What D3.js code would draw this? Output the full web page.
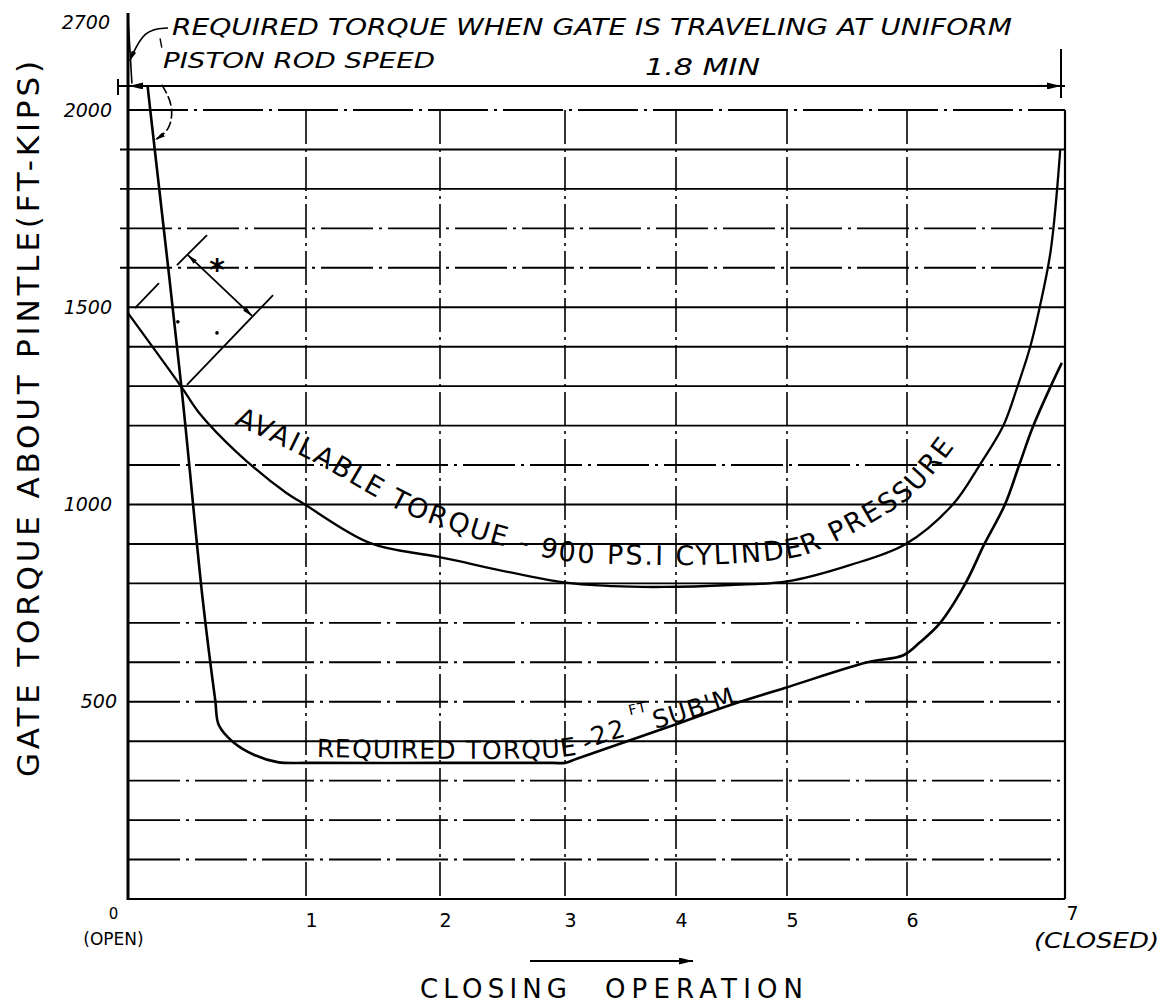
<!DOCTYPE html>
<html><head><meta charset="utf-8">
<script src="https://cdn.jsdelivr.net/npm/d3@7/dist/d3.min.js"></script>
<style>
html,body{margin:0;padding:0;background:#fff;}
svg{display:block;}
text{font-family:"DejaVu Sans",sans-serif;fill:#000;}
</style></head><body>
<svg id="chart" width="1172" height="1007" viewBox="0 0 1172 1007"></svg>
<script>
// ---------------- data ----------------
const xTickValues = [0,1,2,3,4,5,6,7];
const xTickLabels = ["0","1","2","3","4","5","6","7"];
const xTickNotes  = ["(OPEN)","","","","","","","(CLOSED)"];
const yTickValues = [500,1000,1500,2000,2700];
const yTickLabels = ["500","1000","1500","2000","2700"];
const gridValues  = [100,200,300,400,500,600,700,800,900,1000,1100,1200,1300,1400,1500,1600,1700,1800,1900];
const gridDashed  = [100,200,300,500,600,700,1100,1600,1700];
const vGridValues = [1,2,3,4,5,6];

// available torque - 900 psi cylinder pressure
const availX = [0,0.30,0.40,0.61,0.89,0.98,1.48,1.99,2.96,3.43,3.89,4.49,5.0,5.53,5.99,6.29,6.46,6.61,6.70,6.78,6.84,6.91,6.97];
const availY = [1485,1298,1232,1133,1029,1004,902,867,804,793,791,796,805,847,900,1000,1100,1200,1300,1400,1500,1645,1900];

// required torque - 22 ft submergence
const reqX = [0.11,0.125,0.30,0.42,0.49,0.51,0.59,0.71,0.84,1.03,2.0,2.9,3.0,3.1,4.0,4.49,4.98,5.67,5.97,6.08,6.21,6.37,6.49,6.62,6.71,6.80,6.91,6.98];
const reqY = [2181,2000,1298,758,504,441,398,365,347,345,345,345,345,355,443,492,535,600,618,650,700,800,900,1000,1100,1200,1300,1359];

// required torque at uniform piston rod speed (initial spike, broken scale)
const spikeX = [0,0.022];
const spikeY = [2700,2200];

// label baselines (data space)
const availLabelX = [0.596,1.045,1.49,1.74,2.20,2.50,2.96,3.77,4.40,5.08,5.26,5.72,6.05,6.30];
const availLabelY = [1204,1110,1024,978,923,895,859,847,849,867,885,956,1027,1146];
const reqLabelX = [1.08,2.96,3.21,3.32,3.59,3.92,4.58];
const reqLabelY = [360,360,375,393,416,439,499];

// texts
const yTitle = "GATE TORQUE ABOUT PINTLE(FT-KIPS)";
const xTitleA = "CLOSING", xTitleB = "OPERATION";
const noteLine1 = "REQUIRED TORQUE WHEN GATE IS TRAVELING AT UNIFORM";
const noteLine2 = "PISTON ROD SPEED";
const durationText = "1.8 MIN";
const availLabel = "AVAILABLE TORQUE - 900 PS.I CYLINDER PRESSURE";
const reqLabelMain = "REQUIRED TORQUE -22", reqLabelSup = "FT", reqLabelEnd = "SUB'M";
const dimValue = 2181; // level of the 1.8 MIN dimension line

// ---------------- scales ----------------
const svg = d3.select("#chart");
const x = d3.scaleLinear().domain(xTickValues).range([128,306,440,565,676,787,907,1065]);
const y = d3.scaleLinear().domain([0,2000,2700]).range([899,110,17]);

const defs = svg.append("defs");
defs.append("marker").attr("id","arr").attr("viewBox","0 0 12 6")
  .attr("refX",12).attr("refY",3).attr("markerWidth",16).attr("markerHeight",7)
  .attr("markerUnits","userSpaceOnUse").attr("orient","auto-start-reverse")
  .append("path").attr("d","M0,0 L12,3 L0,6 Z").attr("fill","#000");
defs.append("marker").attr("id","arrS").attr("viewBox","0 0 12 6")
  .attr("refX",12).attr("refY",3).attr("markerWidth",11).attr("markerHeight",5)
  .attr("markerUnits","userSpaceOnUse").attr("orient","auto-start-reverse")
  .append("path").attr("d","M0,0 L12,3 L0,6 Z").attr("fill","#000");

// ---------------- grid ----------------
const grid = svg.append("g");
grid.selectAll("line.h").data(gridValues).join("line")
  .attr("x1",d=>x(0)-(d>1500?8:0)).attr("x2",x(7))
  .attr("y1",d=>y(d)).attr("y2",d=>y(d))
  .attr("stroke","#000").attr("stroke-width",1.9)
  .attr("stroke-dasharray",d=>gridDashed.includes(d)?"52,6,3,6":null);
grid.selectAll("line.v").data(vGridValues).join("line")
  .attr("x1",d=>x(d)).attr("x2",d=>x(d))
  .attr("y1",y(2000)).attr("y2",y(0))
  .attr("stroke","#000").attr("stroke-width",1.6)
  .attr("stroke-dasharray","34,5,3,5");
grid.append("line").attr("x1",x(0)).attr("x2",x(7)).attr("y1",y(2000)).attr("y2",y(2000))
  .attr("stroke","#000").attr("stroke-width",1.8).attr("stroke-dasharray","60,6,3,6");
grid.append("line").attr("x1",x(0)).attr("x2",x(7)).attr("y1",y(0)).attr("y2",y(0))
  .attr("stroke","#000").attr("stroke-width",2.2);
grid.append("line").attr("x1",x(7)).attr("x2",x(7)).attr("y1",y(2000)).attr("y2",y(0))
  .attr("stroke","#000").attr("stroke-width",2.2);
grid.append("line").attr("x1",x(0)).attr("x2",x(0)).attr("y1",y(2700)-4).attr("y2",y(0)+1)
  .attr("stroke","#000").attr("stroke-width",3);

// ---------------- axes ----------------
const gx = svg.append("g").attr("transform",`translate(0,${y(0)})`)
  .call(d3.axisBottom(x).tickValues(xTickValues).tickSize(0).tickPadding(15)
        .tickFormat((d,i)=>xTickLabels[i]));
gx.select(".domain").remove();
gx.selectAll(".tick text")
  .attr("font-family","DejaVu Sans").attr("font-size",(d,i)=>(i===0?15:19))
  .attr("dx",(d,i)=>(i===0?-15:i===7?7:5)).attr("dy",(d,i)=>(i===0||i===7?"0.3em":"0.71em"));
gx.selectAll(".tick").filter(d=>xTickNotes[xTickValues.indexOf(d)]!=="").append("text")
  .attr("fill","#000").attr("font-family","DejaVu Sans")
  .attr("font-size",d=>d===7?22:17).attr("text-anchor","middle")
  .attr("font-style",d=>d===7?"italic":"normal")
  .attr("textLength",d=>d===7?125:null).attr("lengthAdjust","spacingAndGlyphs")
  .attr("x",d=>d===0?-15:31).attr("y",d=>d===7?49:46)
  .text(d=>xTickNotes[xTickValues.indexOf(d)]);

const gy = svg.append("g").attr("transform",`translate(${x(0)},0)`)
  .call(d3.axisLeft(y).tickValues(yTickValues).tickSize(0).tickPadding(16)
        .tickFormat((d,i)=>yTickLabels[i]));
gy.select(".domain").remove();
gy.selectAll(".tick text").attr("font-family","DejaVu Sans").attr("font-style","italic")
  .attr("font-size",19).attr("dx",d=>d===500?5:d===2700?-2:0).attr("dy",d=>d===2700?"0.6em":"0.32em");

// ---------------- curves ----------------
const line = d3.line().x(d=>x(d[0])).y(d=>y(d[1])).curve(d3.curveCatmullRom.alpha(0.5));
const availData = availX.map((v,i)=>[v,availY[i]]);
const reqData = reqX.map((v,i)=>[v,reqY[i]]);
const spikeData = spikeX.map((v,i)=>[v,spikeY[i]]);
svg.append("path").attr("d",line(availData)).attr("fill","none").attr("stroke","#000").attr("stroke-width",2.3);
svg.append("path").attr("d",line(reqData)).attr("fill","none").attr("stroke","#000").attr("stroke-width",2.6);
svg.append("path").attr("d",d3.line().x(d=>x(d[0])).y(d=>y(d[1]))(spikeData))
  .attr("fill","none").attr("stroke","#000").attr("stroke-width",1.6);

// ---------------- curve labels ----------------
const labelLine = d3.line().x(d=>x(d[0])).y(d=>y(d[1])).curve(d3.curveCatmullRom.alpha(0.5));
const alp = defs.append("path").attr("id","availLabelPath")
  .attr("d",labelLine(availLabelX.map((v,i)=>[v,availLabelY[i]])));
const aText = svg.append("text").attr("font-size",27).attr("font-family","DejaVu Sans");
aText.append("textPath").attr("href","#availLabelPath").text(availLabel);
{
  const L = alp.node().getTotalLength();
  const t = aText.node().getComputedTextLength();
  aText.attr("letter-spacing",((L - t)/(availLabel.length-1)).toFixed(2));
}
defs.append("path").attr("id","reqLabelPath")
  .attr("d",labelLine(reqLabelX.map((v,i)=>[v,reqLabelY[i]])));
const rText = svg.append("text").attr("font-size",25).attr("font-family","DejaVu Sans").attr("letter-spacing",1.1);
const rTP = rText.append("textPath").attr("href","#reqLabelPath");
rTP.append("tspan").text(reqLabelMain);
rTP.append("tspan").attr("font-size",14).attr("dy",-19).attr("dx",7).text(reqLabelSup);
rTP.append("tspan").attr("dy",19).attr("dx",3).text(reqLabelEnd);

// ---------------- annotations ----------------
const P = (a,b)=>[x(a),y(b)];
svg.append("line").attr("x1",x(0)-10).attr("x2",x(7)).attr("y1",y(dimValue)).attr("y2",y(dimValue))
  .attr("stroke","#000").attr("stroke-width",2);
svg.append("line").attr("x1",x(0)+14).attr("x2",x(0)+1).attr("y1",y(dimValue)).attr("y2",y(dimValue))
  .attr("stroke","#000").attr("stroke-width",2).attr("marker-end","url(#arr)");
svg.append("line").attr("x1",x(7)-30).attr("x2",x(7)-4).attr("y1",y(dimValue)).attr("y2",y(dimValue))
  .attr("stroke","#000").attr("stroke-width",2).attr("marker-end","url(#arr)");
svg.append("line").attr("x1",x(0)-10).attr("x2",x(0)-10).attr("y1",y(dimValue)-7).attr("y2",y(dimValue)+9)
  .attr("stroke","#000").attr("stroke-width",2);
svg.append("line").attr("x1",x(7)-4).attr("x2",x(7)-4).attr("y1",y(2460)).attr("y2",y(2090))
  .attr("stroke","#000").attr("stroke-width",2);

const curve = d3.line().curve(d3.curveBasis);
svg.append("path").attr("d",curve([P(0.225,2617),P(0.09,2610),P(0.01,2370)]))
  .attr("fill","none").attr("stroke","#000").attr("stroke-width",1.6).attr("marker-end","url(#arrS)");
svg.append("path").attr("d",curve([P(0.18,2540),P(0.19,2470)]))
  .attr("fill","none").attr("stroke","#000").attr("stroke-width",1.4);
svg.append("path").attr("d",curve([P(0.19,2190),P(0.255,2040),P(0.24,1950),P(0.152,1924)]))
  .attr("fill","none").attr("stroke","#000").attr("stroke-width",1.6)
  .attr("stroke-dasharray","10,3").attr("marker-end","url(#arrS)");

const annLines = [
  [[0.039,1498],[0.174,1561]],
  [[0.331,1303],[0.815,1531]],
  [[0.275,1607],[0.444,1683]]
];
svg.selectAll("line.ann").data(annLines).join("line")
  .attr("x1",d=>x(d[0][0])).attr("y1",d=>y(d[0][1]))
  .attr("x2",d=>x(d[1][0])).attr("y2",d=>y(d[1][1]))
  .attr("stroke","#000").attr("stroke-width",1.8);
svg.append("line").attr("x1",x(0.337)).attr("y1",y(1632)).attr("x2",x(0.697)).attr("y2",y(1478))
  .attr("stroke","#000").attr("stroke-width",1.8)
  .attr("marker-start","url(#arrS)").attr("marker-end","url(#arrS)");
svg.append("text").attr("x",x(0.5)).attr("y",y(1600)+12).attr("text-anchor","middle")
  .attr("font-size",30).attr("font-weight","bold").text("*");
svg.append("circle").attr("cx",x(0.5)).attr("cy",y(1435)).attr("r",1.8).attr("fill","#000");
svg.append("circle").attr("cx",x(0.28)).attr("cy",y(1463)).attr("r",1.8).attr("fill","#000");

svg.append("text").attr("x",172).attr("y",35).attr("font-size",23).attr("font-style","italic")
  .attr("textLength",840).attr("lengthAdjust","spacingAndGlyphs").text(noteLine1);
svg.append("text").attr("x",163).attr("y",68).attr("font-size",22).attr("font-style","italic")
  .attr("textLength",272).attr("lengthAdjust","spacingAndGlyphs").text(noteLine2);
svg.append("text").attr("x",645).attr("y",75).attr("font-size",23).attr("font-style","italic")
  .attr("textLength",115).attr("lengthAdjust","spacingAndGlyphs").text(durationText);

svg.append("text").attr("transform","translate(39,419) rotate(-90)").attr("text-anchor","middle")
  .attr("font-size",31).attr("textLength",716).attr("lengthAdjust","spacing").text(yTitle);
svg.append("text").attr("x",420).attr("y",998).attr("font-size",26)
  .attr("textLength",147).attr("lengthAdjust","spacing").text(xTitleA);
svg.append("text").attr("x",605).attr("y",998).attr("font-size",26)
  .attr("textLength",198).attr("lengthAdjust","spacing").text(xTitleB);
svg.append("line").attr("x1",530).attr("x2",693).attr("y1",961).attr("y2",961)
  .attr("stroke","#000").attr("stroke-width",1.8).attr("marker-end","url(#arr)");
</script>
</body></html>
